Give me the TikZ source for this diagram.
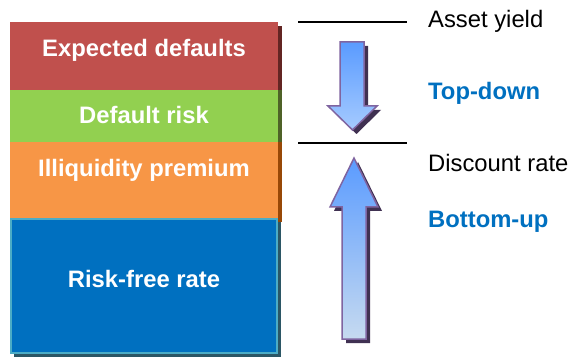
\documentclass[tikz,border=0pt]{standalone}
\usepackage{fontspec}
\setmainfont{Liberation Sans}
\definecolor{cRed}{HTML}{C0504D}
\definecolor{cRedS}{HTML}{632523}
\definecolor{cGreen}{HTML}{92D050}
\definecolor{cGreenS}{HTML}{4F6228}
\definecolor{cOrange}{HTML}{F79646}
\definecolor{cOrangeS}{HTML}{984807}
\definecolor{cBlue}{HTML}{0070C0}
\definecolor{cBlueB}{HTML}{4BACC6}
\definecolor{cBlueS}{HTML}{2B5665}
\definecolor{cTitle}{HTML}{0070C0}
\definecolor{cArrB}{HTML}{7F64A0}
\definecolor{cArrS}{HTML}{403152}
\definecolor{cArrTop}{HTML}{5A9BFF}
\definecolor{cArrLow}{HTML}{A6CBFF}
\definecolor{cArrLow2}{HTML}{C6DAF0}
\tikzset{
  boxtext/.style={text=white, font=\fontsize{23.8}{27}\selectfont\bfseries, inner sep=0pt, anchor=base},
  sidetext/.style={text=black, font=\fontsize{23.8}{27}\selectfont, anchor=base west, inner sep=0pt},
  headtext/.style={text=cTitle, font=\fontsize{23.8}{27}\selectfont\bfseries, anchor=base west, inner sep=0pt},
  rule/.style={line width=1.4pt, black},
  arrowline/.style={draw=cArrB, line width=1.5pt, line join=miter}
}
\begin{document}
\begin{tikzpicture}[x=1pt,y=-1pt]
\useasboundingbox (0,0) rectangle (570,358);
% shadows of stacked boxes
\fill[cRedS] (278,26) rectangle (282,90);
\fill[cGreenS] (278,90) rectangle (282,142);
\fill[cOrangeS] (278,142) rectangle (282,222);
\fill[cBlueS] (14,222) rectangle (281,357);
% boxes
\fill[cRed] (10,22) rectangle (278,90);
\fill[cGreen] (10,90) rectangle (278,142);
\fill[cOrange] (10,142) rectangle (278,218);
\filldraw[fill=cBlue, draw=cBlueB, line width=2pt] (11,219) rectangle (277,353);
% box texts
\node[boxtext] (ed) at (144,57) {Expected defaults};
\node[boxtext] (dr) at (144,124) {Default risk};
\node[boxtext] (ip) at (144,177) {Illiquidity premium};
\node[boxtext] (rf) at (144,287) {Risk-free rate};
% rules
\coordinate (r1a) at (298,22); \coordinate (r1b) at (407,22);
\coordinate (r2a) at (298,143); \coordinate (r2b) at (407,143);
\draw[rule] (r1a) -- (r1b);
\draw[rule] (r2a) -- (r2b);
% side texts
\node[sidetext] (ay) at (428,28) {Asset yield};
\node[sidetext] (dc) at (428,172) {Discount rate};
\node[headtext] (td) at (428,100) {Top-down};
\node[headtext] (bu) at (428,227) {Bottom-up};
% down arrow
\fill[cArrS, shift={(4,4)}] (340,42) -- (364,42) -- (364,106) -- (377,106) -- (352.5,130) -- (328,106) -- (340,106) -- cycle;
\shade[top color=cArrTop, bottom color=cArrLow] (340,42) -- (364,42) -- (364,106) -- (377,106) -- (352.5,130) -- (328,106) -- (340,106) -- cycle;
\draw[arrowline] (340,42) -- (364,42) -- (364,106) -- (377,106) -- (352.5,130) -- (328,106) -- (340,106) -- cycle;
% up arrow
\fill[cArrS, shift={(4,4)}] (342,339) -- (366,339) -- (366,207) -- (378,207) -- (354,158) -- (330,207) -- (342,207) -- cycle;
\shade[top color=cArrTop, bottom color=cArrLow2] (342,339) -- (366,339) -- (366,207) -- (378,207) -- (354,158) -- (330,207) -- (342,207) -- cycle;
\draw[arrowline] (342,339) -- (366,339) -- (366,207) -- (378,207) -- (354,158) -- (330,207) -- (342,207) -- cycle;
\end{tikzpicture}
\end{document}
